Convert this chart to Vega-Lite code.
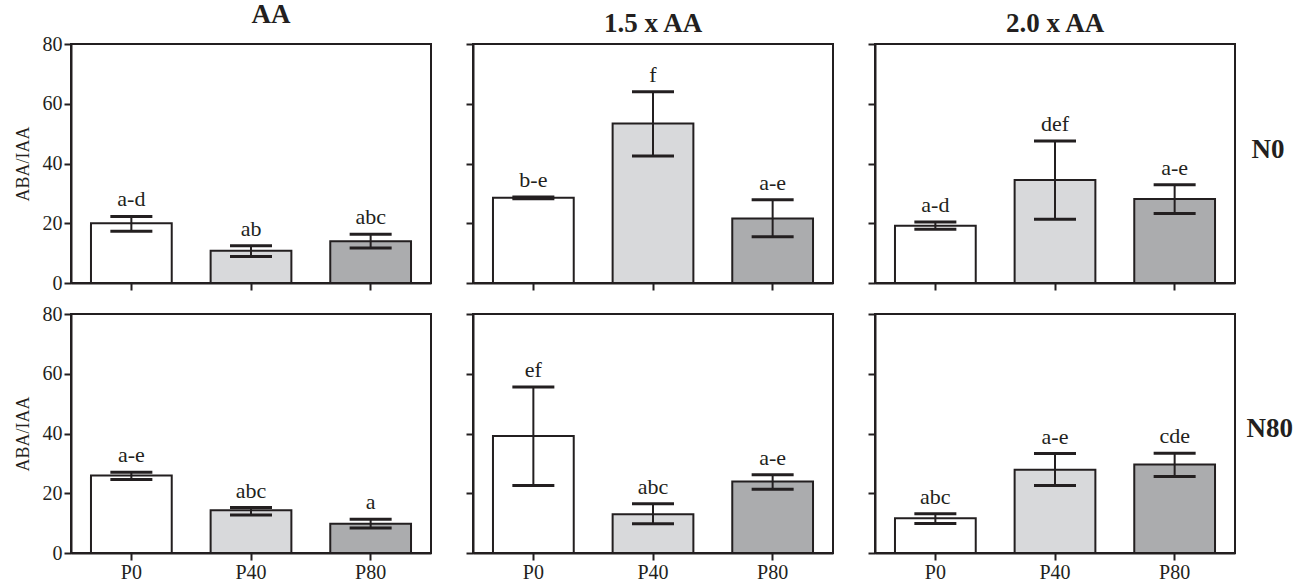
{
  "$schema": "https://vega.github.io/schema/vega-lite/v6.json",
  "background": "white",
  "padding": {"left": 13, "top": 0, "right": 0, "bottom": 0},
  "datasets": {
    "d": [
      {"dose": "AA", "N": "N0", "P": "P0", "mean": 20.0, "lo": 17.3, "hi": 22.3, "label": "a-d"},
      {"dose": "AA", "N": "N0", "P": "P40", "mean": 10.8, "lo": 8.9, "hi": 12.5, "label": "ab"},
      {"dose": "AA", "N": "N0", "P": "P80", "mean": 14.0, "lo": 11.7, "hi": 16.3, "label": "abc"},
      {"dose": "1.5 x AA", "N": "N0", "P": "P0", "mean": 28.5, "lo": 28.2, "hi": 28.8, "label": "b-e"},
      {"dose": "1.5 x AA", "N": "N0", "P": "P40", "mean": 53.4, "lo": 42.5, "hi": 64.0, "label": "f"},
      {"dose": "1.5 x AA", "N": "N0", "P": "P80", "mean": 21.6, "lo": 15.5, "hi": 27.9, "label": "a-e"},
      {"dose": "2.0 x AA", "N": "N0", "P": "P0", "mean": 19.2, "lo": 18.0, "hi": 20.4, "label": "a-d"},
      {"dose": "2.0 x AA", "N": "N0", "P": "P40", "mean": 34.5, "lo": 21.3, "hi": 47.5, "label": "def"},
      {"dose": "2.0 x AA", "N": "N0", "P": "P80", "mean": 28.1, "lo": 23.3, "hi": 32.9, "label": "a-e"},
      {"dose": "AA", "N": "N80", "P": "P0", "mean": 25.9, "lo": 24.6, "hi": 27.0, "label": "a-e"},
      {"dose": "AA", "N": "N80", "P": "P40", "mean": 14.3, "lo": 12.7, "hi": 15.2, "label": "abc"},
      {"dose": "AA", "N": "N80", "P": "P80", "mean": 9.8, "lo": 8.4, "hi": 11.3, "label": "a"},
      {"dose": "1.5 x AA", "N": "N80", "P": "P0", "mean": 39.2, "lo": 22.6, "hi": 55.6, "label": "ef"},
      {"dose": "1.5 x AA", "N": "N80", "P": "P40", "mean": 13.0, "lo": 9.8, "hi": 16.5, "label": "abc"},
      {"dose": "1.5 x AA", "N": "N80", "P": "P80", "mean": 23.9, "lo": 21.3, "hi": 26.2, "label": "a-e"},
      {"dose": "2.0 x AA", "N": "N80", "P": "P0", "mean": 11.6, "lo": 9.9, "hi": 13.1, "label": "abc"},
      {"dose": "2.0 x AA", "N": "N80", "P": "P40", "mean": 27.9, "lo": 22.6, "hi": 33.3, "label": "a-e"},
      {"dose": "2.0 x AA", "N": "N80", "P": "P80", "mean": 29.6, "lo": 25.6, "hi": 33.4, "label": "cde"}
    ]
  },
  "data": {"name": "d"},
  "columns": 3,
  "bounds": "flush",
  "spacing": {"row": 31, "column": 42},
  "concat": [
    {
      "width": 360, "height": 239,
      "title": {"text": "AA", "dx": 20},
      "transform": [{"filter": "datum.dose === 'AA' && datum.N === 'N0'"}],
      "resolve": {"axis": {"y": "independent"}},
      "layer": [
        {"mark": {"type": "bar", "stroke": "#231f20", "strokeWidth": 2},
         "encoding": {
           "x": {"field": "P", "type": "nominal", "scale": {"domain": ["P0", "P40", "P80"], "paddingInner": 0.325, "paddingOuter": 0.167}, "axis": {"title": null, "labels": false}},
           "y": {"field": "mean", "type": "quantitative", "scale": {"domain": [0, 80], "nice": false}, "axis": {"title": "ABA/IAA", "values": [0, 20, 40, 60, 80]}},
           "fill": {"field": "P", "type": "nominal", "scale": {"domain": ["P0", "P40", "P80"], "range": ["#ffffff", "#d8d9db", "#abacae"]}, "legend": null}}},
        {"mark": {"type": "rule", "strokeWidth": 2, "color": "#231f20"},
         "encoding": {"x": {"field": "P", "type": "nominal"}, "y": {"field": "lo", "type": "quantitative", "axis": null}, "y2": {"field": "hi"}}},
        {"mark": {"type": "tick", "thickness": 3, "size": 42, "color": "#231f20", "opacity": 1},
         "encoding": {"x": {"field": "P", "type": "nominal"}, "y": {"field": "hi", "type": "quantitative", "axis": null}}},
        {"mark": {"type": "tick", "thickness": 3, "size": 42, "color": "#231f20", "opacity": 1},
         "encoding": {"x": {"field": "P", "type": "nominal"}, "y": {"field": "lo", "type": "quantitative", "axis": null}}},
        {"mark": {"type": "text", "baseline": "bottom", "dy": -5, "font": "Liberation Serif", "fontSize": 22, "color": "#231f20"},
         "encoding": {"x": {"field": "P", "type": "nominal"}, "y": {"field": "hi", "type": "quantitative", "axis": null}, "text": {"field": "label"}}}
      ]
    },
    {
      "width": 360, "height": 239,
      "title": {"text": "1.5 x AA"},
      "transform": [{"filter": "datum.dose === '1.5 x AA' && datum.N === 'N0'"}],
      "resolve": {"axis": {"y": "independent"}},
      "layer": [
        {"mark": {"type": "bar", "stroke": "#231f20", "strokeWidth": 2},
         "encoding": {
           "x": {"field": "P", "type": "nominal", "scale": {"domain": ["P0", "P40", "P80"], "paddingInner": 0.325, "paddingOuter": 0.167}, "axis": {"title": null, "labels": false}},
           "y": {"field": "mean", "type": "quantitative", "scale": {"domain": [0, 80], "nice": false}, "axis": {"title": null, "labels": false, "values": [0, 20, 40, 60, 80]}},
           "fill": {"field": "P", "type": "nominal", "scale": {"domain": ["P0", "P40", "P80"], "range": ["#ffffff", "#d8d9db", "#abacae"]}, "legend": null}}},
        {"mark": {"type": "rule", "strokeWidth": 2, "color": "#231f20"},
         "encoding": {"x": {"field": "P", "type": "nominal"}, "y": {"field": "lo", "type": "quantitative", "axis": null}, "y2": {"field": "hi"}}},
        {"mark": {"type": "tick", "thickness": 3, "size": 42, "color": "#231f20", "opacity": 1},
         "encoding": {"x": {"field": "P", "type": "nominal"}, "y": {"field": "hi", "type": "quantitative", "axis": null}}},
        {"mark": {"type": "tick", "thickness": 3, "size": 42, "color": "#231f20", "opacity": 1},
         "encoding": {"x": {"field": "P", "type": "nominal"}, "y": {"field": "lo", "type": "quantitative", "axis": null}}},
        {"mark": {"type": "text", "baseline": "bottom", "dy": -5, "font": "Liberation Serif", "fontSize": 22, "color": "#231f20"},
         "encoding": {"x": {"field": "P", "type": "nominal"}, "y": {"field": "hi", "type": "quantitative", "axis": null}, "text": {"field": "label"}}}
      ]
    },
    {
      "width": 360, "height": 239,
      "title": {"text": "2.0 x AA"},
      "transform": [{"filter": "datum.dose === '2.0 x AA' && datum.N === 'N0'"}],
      "resolve": {"axis": {"y": "independent"}},
      "layer": [
        {"mark": {"type": "bar", "stroke": "#231f20", "strokeWidth": 2},
         "encoding": {
           "x": {"field": "P", "type": "nominal", "scale": {"domain": ["P0", "P40", "P80"], "paddingInner": 0.325, "paddingOuter": 0.167}, "axis": {"title": null, "labels": false}},
           "y": {"field": "mean", "type": "quantitative", "scale": {"domain": [0, 80], "nice": false}, "axis": {"title": null, "labels": false, "values": [0, 20, 40, 60, 80]}},
           "fill": {"field": "P", "type": "nominal", "scale": {"domain": ["P0", "P40", "P80"], "range": ["#ffffff", "#d8d9db", "#abacae"]}, "legend": null}}},
        {"mark": {"type": "rule", "strokeWidth": 2, "color": "#231f20"},
         "encoding": {"x": {"field": "P", "type": "nominal"}, "y": {"field": "lo", "type": "quantitative", "axis": null}, "y2": {"field": "hi"}}},
        {"mark": {"type": "tick", "thickness": 3, "size": 42, "color": "#231f20", "opacity": 1},
         "encoding": {"x": {"field": "P", "type": "nominal"}, "y": {"field": "hi", "type": "quantitative", "axis": null}}},
        {"mark": {"type": "tick", "thickness": 3, "size": 42, "color": "#231f20", "opacity": 1},
         "encoding": {"x": {"field": "P", "type": "nominal"}, "y": {"field": "lo", "type": "quantitative", "axis": null}}},
        {"mark": {"type": "text", "baseline": "bottom", "dy": -5, "font": "Liberation Serif", "fontSize": 22, "color": "#231f20"},
         "encoding": {"x": {"field": "P", "type": "nominal"}, "y": {"field": "hi", "type": "quantitative", "axis": {"orient": "right", "title": "N0", "labels": false, "ticks": false, "domain": false, "titleAngle": 0, "titleAlign": "left", "titleBaseline": "middle", "titleY": 105, "titlePadding": 16, "titleFontSize": 27, "titleFontWeight": "bold"}}, "text": {"field": "label"}}}
      ]
    },
    {
      "width": 360, "height": 239,
      "transform": [{"filter": "datum.dose === 'AA' && datum.N === 'N80'"}],
      "resolve": {"axis": {"y": "independent"}},
      "layer": [
        {"mark": {"type": "bar", "stroke": "#231f20", "strokeWidth": 2},
         "encoding": {
           "x": {"field": "P", "type": "nominal", "scale": {"domain": ["P0", "P40", "P80"], "paddingInner": 0.325, "paddingOuter": 0.167}, "axis": {"title": null, "labelAngle": 0}},
           "y": {"field": "mean", "type": "quantitative", "scale": {"domain": [0, 80], "nice": false}, "axis": {"title": "ABA/IAA", "values": [0, 20, 40, 60, 80]}},
           "fill": {"field": "P", "type": "nominal", "scale": {"domain": ["P0", "P40", "P80"], "range": ["#ffffff", "#d8d9db", "#abacae"]}, "legend": null}}},
        {"mark": {"type": "rule", "strokeWidth": 2, "color": "#231f20"},
         "encoding": {"x": {"field": "P", "type": "nominal"}, "y": {"field": "lo", "type": "quantitative", "axis": null}, "y2": {"field": "hi"}}},
        {"mark": {"type": "tick", "thickness": 3, "size": 42, "color": "#231f20", "opacity": 1},
         "encoding": {"x": {"field": "P", "type": "nominal"}, "y": {"field": "hi", "type": "quantitative", "axis": null}}},
        {"mark": {"type": "tick", "thickness": 3, "size": 42, "color": "#231f20", "opacity": 1},
         "encoding": {"x": {"field": "P", "type": "nominal"}, "y": {"field": "lo", "type": "quantitative", "axis": null}}},
        {"mark": {"type": "text", "baseline": "bottom", "dy": -5, "font": "Liberation Serif", "fontSize": 22, "color": "#231f20"},
         "encoding": {"x": {"field": "P", "type": "nominal"}, "y": {"field": "hi", "type": "quantitative", "axis": null}, "text": {"field": "label"}}}
      ]
    },
    {
      "width": 360, "height": 239,
      "transform": [{"filter": "datum.dose === '1.5 x AA' && datum.N === 'N80'"}],
      "resolve": {"axis": {"y": "independent"}},
      "layer": [
        {"mark": {"type": "bar", "stroke": "#231f20", "strokeWidth": 2},
         "encoding": {
           "x": {"field": "P", "type": "nominal", "scale": {"domain": ["P0", "P40", "P80"], "paddingInner": 0.325, "paddingOuter": 0.167}, "axis": {"title": null, "labelAngle": 0}},
           "y": {"field": "mean", "type": "quantitative", "scale": {"domain": [0, 80], "nice": false}, "axis": {"title": null, "labels": false, "values": [0, 20, 40, 60, 80]}},
           "fill": {"field": "P", "type": "nominal", "scale": {"domain": ["P0", "P40", "P80"], "range": ["#ffffff", "#d8d9db", "#abacae"]}, "legend": null}}},
        {"mark": {"type": "rule", "strokeWidth": 2, "color": "#231f20"},
         "encoding": {"x": {"field": "P", "type": "nominal"}, "y": {"field": "lo", "type": "quantitative", "axis": null}, "y2": {"field": "hi"}}},
        {"mark": {"type": "tick", "thickness": 3, "size": 42, "color": "#231f20", "opacity": 1},
         "encoding": {"x": {"field": "P", "type": "nominal"}, "y": {"field": "hi", "type": "quantitative", "axis": null}}},
        {"mark": {"type": "tick", "thickness": 3, "size": 42, "color": "#231f20", "opacity": 1},
         "encoding": {"x": {"field": "P", "type": "nominal"}, "y": {"field": "lo", "type": "quantitative", "axis": null}}},
        {"mark": {"type": "text", "baseline": "bottom", "dy": -5, "font": "Liberation Serif", "fontSize": 22, "color": "#231f20"},
         "encoding": {"x": {"field": "P", "type": "nominal"}, "y": {"field": "hi", "type": "quantitative", "axis": null}, "text": {"field": "label"}}}
      ]
    },
    {
      "width": 360, "height": 239,
      "transform": [{"filter": "datum.dose === '2.0 x AA' && datum.N === 'N80'"}],
      "resolve": {"axis": {"y": "independent"}},
      "layer": [
        {"mark": {"type": "bar", "stroke": "#231f20", "strokeWidth": 2},
         "encoding": {
           "x": {"field": "P", "type": "nominal", "scale": {"domain": ["P0", "P40", "P80"], "paddingInner": 0.325, "paddingOuter": 0.167}, "axis": {"title": null, "labelAngle": 0}},
           "y": {"field": "mean", "type": "quantitative", "scale": {"domain": [0, 80], "nice": false}, "axis": {"title": null, "labels": false, "values": [0, 20, 40, 60, 80]}},
           "fill": {"field": "P", "type": "nominal", "scale": {"domain": ["P0", "P40", "P80"], "range": ["#ffffff", "#d8d9db", "#abacae"]}, "legend": null}}},
        {"mark": {"type": "rule", "strokeWidth": 2, "color": "#231f20"},
         "encoding": {"x": {"field": "P", "type": "nominal"}, "y": {"field": "lo", "type": "quantitative", "axis": null}, "y2": {"field": "hi"}}},
        {"mark": {"type": "tick", "thickness": 3, "size": 42, "color": "#231f20", "opacity": 1},
         "encoding": {"x": {"field": "P", "type": "nominal"}, "y": {"field": "hi", "type": "quantitative", "axis": null}}},
        {"mark": {"type": "tick", "thickness": 3, "size": 42, "color": "#231f20", "opacity": 1},
         "encoding": {"x": {"field": "P", "type": "nominal"}, "y": {"field": "lo", "type": "quantitative", "axis": null}}},
        {"mark": {"type": "text", "baseline": "bottom", "dy": -5, "font": "Liberation Serif", "fontSize": 22, "color": "#231f20"},
         "encoding": {"x": {"field": "P", "type": "nominal"}, "y": {"field": "hi", "type": "quantitative", "axis": {"orient": "right", "title": "N80", "labels": false, "ticks": false, "domain": false, "titleAngle": 0, "titleAlign": "left", "titleBaseline": "middle", "titleY": 114, "titlePadding": 11, "titleFontSize": 27, "titleFontWeight": "bold"}}, "text": {"field": "label"}}}
      ]
    }
  ],
  "config": {
    "view": {"stroke": "#231f20", "strokeWidth": 2},
    "axis": {
      "grid": false,
      "domainColor": "#231f20", "domainWidth": 2,
      "tickColor": "#231f20", "tickWidth": 2, "tickSize": 7,
      "labelFont": "Liberation Serif", "labelFontSize": 20, "labelColor": "#231f20", "labelPadding": 2,
      "titleFont": "Liberation Serif", "titleFontSize": 18, "titleFontWeight": "normal", "titleColor": "#231f20", "titlePadding": 10
    },
    "title": {"font": "Liberation Serif", "fontSize": 27, "fontWeight": "bold", "color": "#231f20", "offset": 5}
  }
}
